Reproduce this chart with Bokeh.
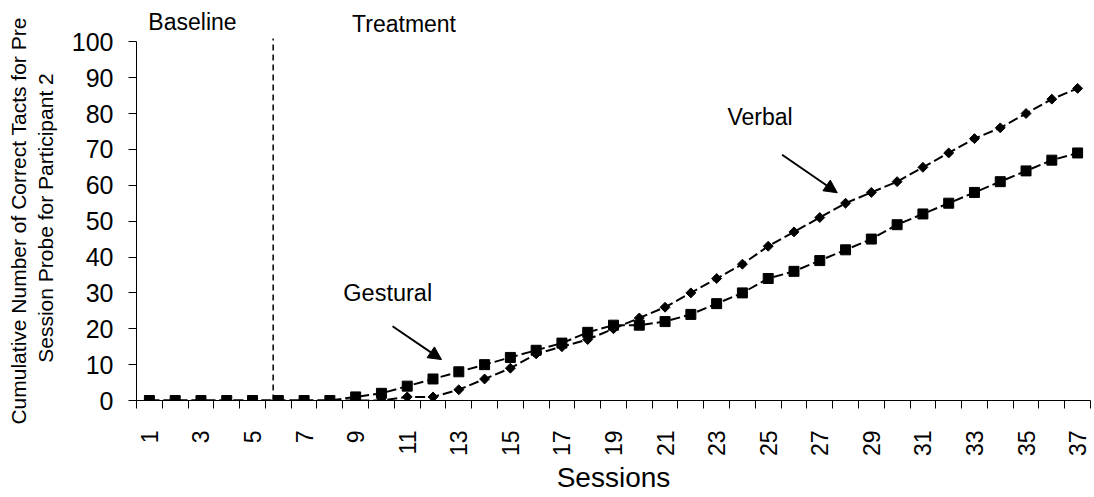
import math
from bokeh.plotting import figure
from bokeh.models import (Range1d, FixedTicker, Label, Arrow, NormalHead, LinearAxis, Title)
from bokeh.embed import file_html
from bokeh.resources import INLINE

# ---- data ----
sessions = list(range(1, 38))
verbal = [0, 0, 0, 0, 0, 0, 0, 0, 0, 0,
          1, 1, 3, 6, 9, 13, 15, 17, 20, 23, 26, 30, 34, 38, 43, 47, 51,
          55, 58, 61, 65, 69, 73, 76, 80, 84, 87]
gestural = [0, 0, 0, 0, 0, 0, 0, 0,
            1, 2, 4, 6, 8, 10, 12, 14, 16, 19, 21, 21, 22, 24, 27, 30, 34,
            36, 39, 42, 45, 49, 52, 55, 58, 61, 64, 67, 69]
x_tick_labels = list(range(1, 38, 2))
y_ticks = list(range(0, 101, 10))
phase_change = 5.8
phase_names = ["Baseline", "Treatment"]
series_names = ["Verbal", "Gestural"]
y_title = ["Cumulative Number of Correct Tacts for Pre",
           "Session Probe for Participant 2"]
x_title = "Sessions"

FONT = "Liberation Sans"
NB = "\u00a0"   # padding that moves the centred y-title lines down to the plot-area centre

p = figure(width=1094, height=497, output_backend="svg", toolbar_location=None,
           title=None, x_range=Range1d(0.5, 37.5), y_range=Range1d(0, 111.5))
p.min_border_left = 136
p.min_border_right = 4
p.min_border_top = 0
p.min_border_bottom = 97
p.outline_line_color = None
p.xgrid.visible = False
p.ygrid.visible = False
p.background_fill_color = "white"
p.border_fill_color = "white"

# x axis
xa = p.xaxis[0]
xa.ticker = FixedTicker(ticks=x_tick_labels,
                        minor_ticks=[i + 0.5 for i in range(0, 38)])
xa.major_tick_out = 0
xa.major_tick_in = 0
xa.minor_tick_out = 8
xa.minor_tick_in = 0
xa.minor_tick_line_color = "black"
xa.axis_line_color = "black"
xa.major_label_orientation = math.pi / 2
xa.major_label_standoff = 22
xa.major_label_text_font = FONT
xa.major_label_text_font_size = "23px"
xa.major_label_text_color = "black"

p.add_layout(Title(text=x_title, align="center", vertical_align="bottom", standoff=0,
                   text_font=FONT, text_font_size="28px", text_font_style="normal",
                   text_line_height=0.9, text_color="black"), "below")

# y axis
ya = p.yaxis[0]
ya.ticker = FixedTicker(ticks=y_ticks, minor_ticks=[])
ya.bounds = (0, 100)
ya.major_tick_out = 8
ya.major_tick_in = 0
ya.minor_tick_out = 0
ya.minor_tick_in = 0
ya.major_tick_line_color = "black"
ya.axis_line_color = "black"
ya.major_label_standoff = 15
ya.major_label_text_font = FONT
ya.major_label_text_font_size = "25px"
ya.major_label_text_color = "black"
ya.axis_label = y_title[1] + NB * 6
ya.axis_label_standoff = 12
ya.axis_label_text_font = FONT
ya.axis_label_text_font_size = "21px"
ya.axis_label_text_font_style = "normal"
ya.axis_label_text_color = "black"

# outer (label-only) axis carrying the first line of the y title
ya2 = LinearAxis(ticker=FixedTicker(ticks=[], minor_ticks=[]), bounds=(0, 100),
                 axis_line_color=None, major_tick_out=0, major_tick_in=0,
                 minor_tick_out=0, minor_tick_in=0, major_label_text_font_size="0px",
                 axis_label=y_title[0] + NB * 7, axis_label_standoff=1,
                 axis_label_text_font=FONT, axis_label_text_font_size="21px",
                 axis_label_text_font_style="normal", axis_label_text_color="black")
p.add_layout(ya2, "left")

# phase change line
p.segment(x0=[phase_change], y0=[0], x1=[phase_change], y1=[100.9],
          line_color="black", line_width=1.5, line_dash="6 4")

# series
p.line(sessions, verbal, line_color="black", line_width=2, line_dash="10 4")
p.scatter(sessions, verbal, marker="square", angle=math.pi / 4, size=7,
          fill_color="black", line_color="black")
p.line(sessions, gestural, line_color="black", line_width=2, line_dash="10 4")
p.scatter(sessions, gestural, marker="square", size=10,
          fill_color="black", line_color="black")

# labels
def lab(x, y, text, size="23px", align="left", baseline="alphabetic", angle=0):
    p.add_layout(Label(x=x, y=y, text=text, text_font=FONT, text_font_size=size,
                       text_align=align, text_baseline=baseline, angle=angle,
                       text_color="black"))

lab(0.96, 105.6, phase_names[0])
lab(8.86, 104.9, phase_names[1])
lab(23.42, 79.1, series_names[0])
lab(8.52, 29.9, series_names[1], size="23.5px")

# arrows
p.add_layout(Arrow(x_start=25.54, y_start=68.5, x_end=27.68, y_end=57.9,
                   line_color="black", line_width=2,
                   end=NormalHead(size=13, fill_color="black", line_color="black")))
p.add_layout(Arrow(x_start=10.43, y_start=20.7, x_end=12.33, y_end=11.4,
                   line_color="black", line_width=2,
                   end=NormalHead(size=13, fill_color="black", line_color="black")))

open("out.html", "w").write(file_html(p, INLINE))
